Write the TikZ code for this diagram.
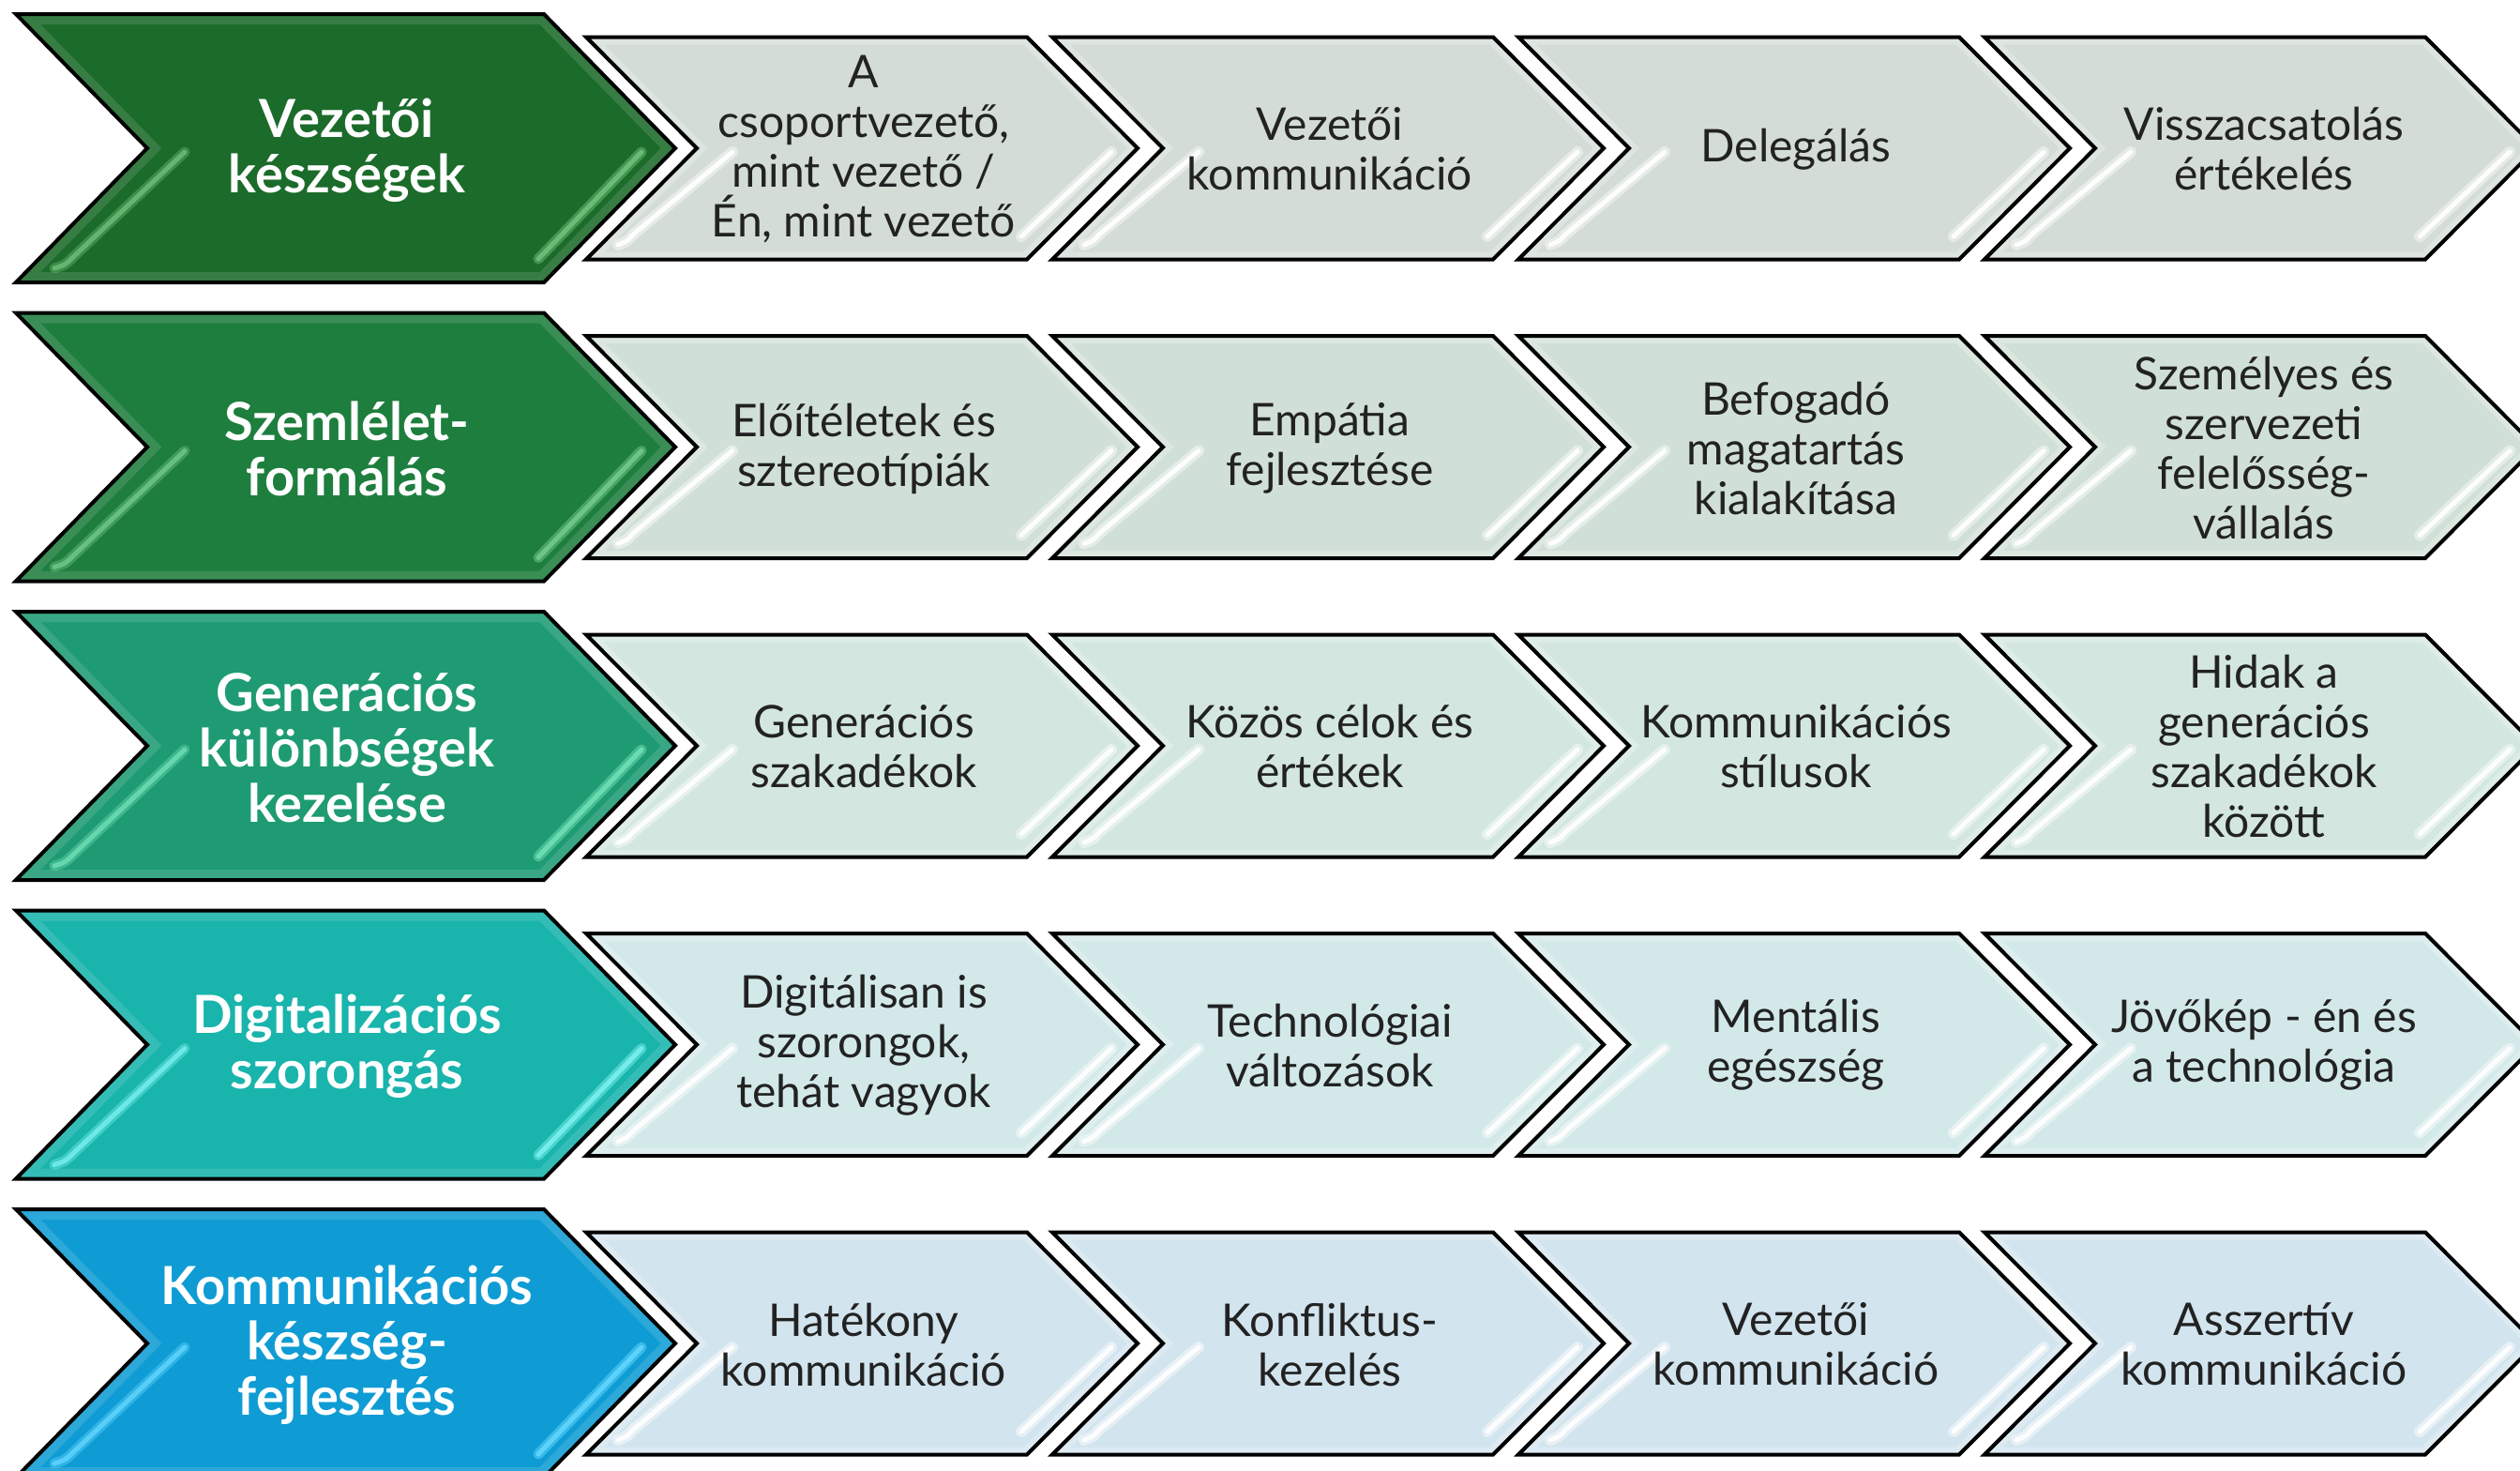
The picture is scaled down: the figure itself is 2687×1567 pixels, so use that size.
\documentclass[tikz,border=0pt]{standalone}
\usepackage{fontspec}
\setmainfont{Lato}
\definecolor{bA}{HTML}{1B6B2A}
\definecolor{bB}{HTML}{1E7E3E}
\definecolor{bC}{HTML}{1E9B73}
\definecolor{bD}{HTML}{19B4AC}
\definecolor{bE}{HTML}{0F9CD4}
\definecolor{hA}{HTML}{6FC07A}
\definecolor{hB}{HTML}{72C98A}
\definecolor{hC}{HTML}{70E0B6}
\definecolor{hD}{HTML}{7AF0EE}
\definecolor{hE}{HTML}{62D6FF}
\definecolor{sA}{HTML}{D3DCD5}
\definecolor{sB}{HTML}{D1E0D6}
\definecolor{sC}{HTML}{D3E7E0}
\definecolor{sD}{HTML}{D3E9E9}
\definecolor{sE}{HTML}{D2E4EE}
\definecolor{txtgray}{HTML}{222222}
\tikzset{
  outline/.style={draw=black, line width=4, line join=miter},
  bigtxt/.style={text=white, align=center, font=\bfseries\fontsize{56}{59}\selectfont, inner sep=0},
  smalltxt/.style={text=txtgray, align=center, font=\fontsize{48}{53}\selectfont, inner sep=0},
}
% big chevron: #1 cy, #2 fill, #3 highlight
\newcommand\BigChev[3]{%
  \path[fill=#2] (17,{#1-143}) -- (580,{#1-143}) -- (720,#1) -- (580,{#1+143}) -- (17,{#1+143}) -- (157,#1) -- cycle;
  \begin{scope}
    \clip (17,{#1-143}) -- (580,{#1-143}) -- (720,#1) -- (580,{#1+143}) -- (17,{#1+143}) -- (157,#1) -- cycle;
    \draw[white, opacity=0.12, line width=22] (17,{#1-143}) -- (580,{#1-143}) -- (720,#1) -- (580,{#1+143}) -- (17,{#1+143}) -- (157,#1) -- cycle;
  \end{scope}
  \draw[#3, opacity=0.5, line width=11, line cap=round] (684,{#1+4}) -- (574,{#1+118});
  \draw[#3, opacity=0.9, line width=5, line cap=round] (684,{#1+4}) -- (574,{#1+118});
  \draw[#3, opacity=0.4, line width=11, line cap=round] (197,{#1+4}) -- (78,{#1+116}) .. controls (70,{#1+124}) .. (58,{#1+128});
  \draw[#3, opacity=0.8, line width=5, line cap=round] (197,{#1+4}) -- (78,{#1+116}) .. controls (70,{#1+124}) .. (58,{#1+128});
  \draw[outline] (17,{#1-143}) -- (580,{#1-143}) -- (720,#1) -- (580,{#1+143}) -- (17,{#1+143}) -- (157,#1) -- cycle;
}
% small chevron: #1 x0, #2 cy, #3 fill
\newcommand\SmallChev[3]{%
  \path[fill=#3] (#1,{#2-118.5}) -- ({#1+470},{#2-118.5}) -- ({#1+588},#2) -- ({#1+470},{#2+118.5}) -- (#1,{#2+118.5}) -- ({#1+118},#2) -- cycle;
  \begin{scope}
    \clip (#1,{#2-118.5}) -- ({#1+470},{#2-118.5}) -- ({#1+588},#2) -- ({#1+470},{#2+118.5}) -- (#1,{#2+118.5}) -- ({#1+118},#2) -- cycle;
    \draw[white, opacity=0.25, line width=16] (#1,{#2-118.5}) -- ({#1+470},{#2-118.5}) -- ({#1+588},#2) -- ({#1+470},{#2+118.5}) -- (#1,{#2+118.5}) -- ({#1+118},#2) -- cycle;
  \end{scope}
  \draw[white, opacity=0.45, line width=12, line cap=round] ({#1+560},{#2+4}) -- ({#1+464},{#2+94});
  \draw[white, opacity=0.9, line width=5, line cap=round] ({#1+560},{#2+4}) -- ({#1+464},{#2+94});
  \draw[white, opacity=0.45, line width=12, line cap=round] ({#1+156},{#2+4}) -- ({#1+50},{#2+92}) .. controls ({#1+44},{#2+99}) .. ({#1+34},{#2+103});
  \draw[white, opacity=0.9, line width=5, line cap=round] ({#1+156},{#2+4}) -- ({#1+50},{#2+92}) .. controls ({#1+44},{#2+99}) .. ({#1+34},{#2+103});
  \draw[outline] (#1,{#2-118.5}) -- ({#1+470},{#2-118.5}) -- ({#1+588},#2) -- ({#1+470},{#2+118.5}) -- (#1,{#2+118.5}) -- ({#1+118},#2) -- cycle;
}
\begin{document}
\begin{tikzpicture}[x=1pt, y=-1pt]
\useasboundingbox (0,0) rectangle (2687,1567);
\clip (0,0) rectangle (2687,1567);
\fill[white] (0,0) rectangle (2687,1567);

% ---- row 1
\BigChev{158}{bA}{hA}
\SmallChev{625}{158}{sA}
\SmallChev{1122}{158}{sA}
\SmallChev{1619}{158}{sA}
\SmallChev{2116}{158}{sA}
\node[bigtxt] (b1) at (370,160) {Vezetői\\készségek};
\node[smalltxt] (c11) at (921,159) {A\\csoportvezető,\\mint vezető /\\Én, mint vezető};
\node[smalltxt] (c12) at (1418,159) {Vezetői\\kommunikáció};
\node[smalltxt] (c13) at (1915,159) {Delegálás};
\node[smalltxt] (c14) at (2414,159) {Visszacsatolás\\értékelés};

% ---- row 2
\BigChev{476.5}{bB}{hB}
\SmallChev{625}{476.5}{sB}
\SmallChev{1122}{476.5}{sB}
\SmallChev{1619}{476.5}{sB}
\SmallChev{2116}{476.5}{sB}
\node[bigtxt] (b2) at (370,478) {Szemlélet-\\formálás};
\node[smalltxt] (c21) at (921,478) {Előítéletek és\\sztereotípiák};
\node[smalltxt] (c22) at (1418,478) {Empátia\\fejlesztése};
\node[smalltxt] (c23) at (1915,478) {Befogadó\\magatartás\\kialakítása};
\node[smalltxt] (c24) at (2414,478) {Személyes és\\szervezeti\\felelősség-\\vállalás};

% ---- row 3
\BigChev{795}{bC}{hC}
\SmallChev{625}{795}{sC}
\SmallChev{1122}{795}{sC}
\SmallChev{1619}{795}{sC}
\SmallChev{2116}{795}{sC}
\node[bigtxt] (b3) at (370,797) {Generációs\\különbségek\\kezelése};
\node[smalltxt] (c31) at (921,796) {Generációs\\szakadékok};
\node[smalltxt] (c32) at (1418,796) {Közös célok és\\értékek};
\node[smalltxt] (c33) at (1915,796) {Kommunikációs\\stílusok};
\node[smalltxt] (c34) at (2414,796) {Hidak a\\generációs\\szakadékok\\között};

% ---- row 4
\BigChev{1113.5}{bD}{hD}
\SmallChev{625}{1113.5}{sD}
\SmallChev{1122}{1113.5}{sD}
\SmallChev{1619}{1113.5}{sD}
\SmallChev{2116}{1113.5}{sD}
\node[bigtxt] (b4) at (370,1115) {Digitalizációs\\szorongás};
\node[smalltxt] (c41) at (921,1114) {Digitálisan is\\szorongok,\\tehát vagyok};
\node[smalltxt] (c42) at (1418,1114) {Technológiai\\változások};
\node[smalltxt] (c43) at (1915,1114) {Mentális\\egészség};
\node[smalltxt] (c44) at (2414,1114) {Jövőkép - én és\\a technológia};

% ---- row 5
\BigChev{1432}{bE}{hE}
\SmallChev{625}{1432}{sE}
\SmallChev{1122}{1432}{sE}
\SmallChev{1619}{1432}{sE}
\SmallChev{2116}{1432}{sE}
\node[bigtxt] (b5) at (370,1434) {Kommunikációs\\készség-\\fejlesztés};
\node[smalltxt] (c51) at (921,1433) {Hatékony\\kommunikáció};
\node[smalltxt] (c52) at (1418,1433) {Konfliktus-\\kezelés};
\node[smalltxt] (c53) at (1915,1433) {Vezetői\\kommunikáció};
\node[smalltxt] (c54) at (2414,1433) {Asszertív\\kommunikáció};
\end{tikzpicture}
\end{document}
